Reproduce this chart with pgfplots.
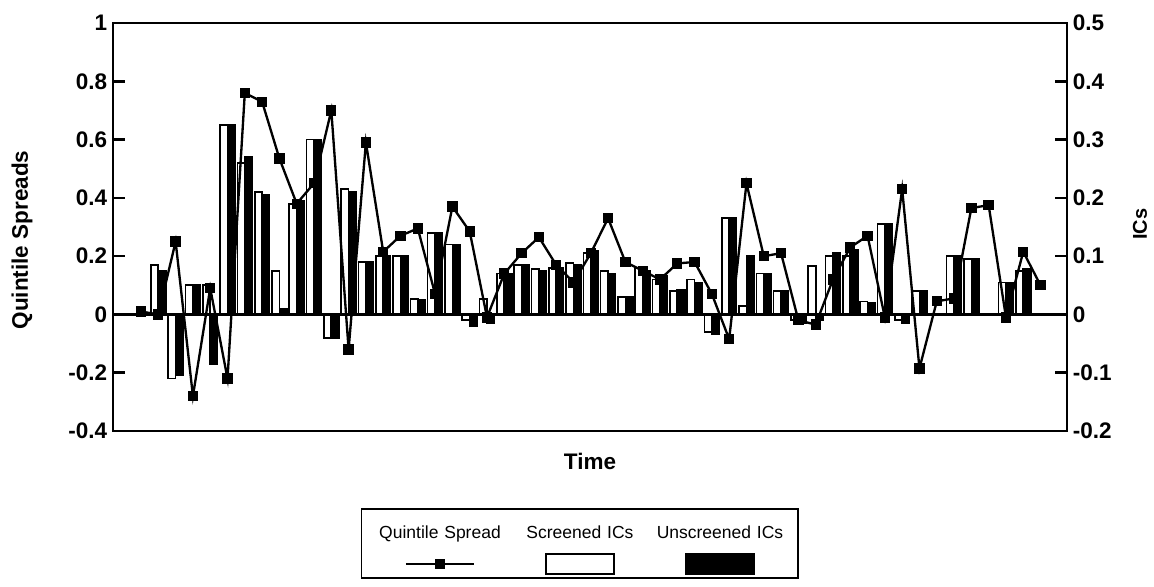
\documentclass[border=0pt]{standalone}
\usepackage{pgfplots}
\pgfplotsset{compat=1.18}
\usepackage{pgfplotstable}
\usepackage{fontspec}
\setmainfont{Liberation Sans}

\pgfplotstableread{
k qs s u
0 0.01 0 0
1 0.00 0.085 0.075
2 0.25 -0.11 -0.105
3 -0.28 0.05 0.05
4 0.09 0.05 -0.085
5 -0.22 0.325 0.325
6 0.76 0.26 0.27
7 0.73 0.21 0.205
8 0.535 0.075 0.01
9 0.38 0.19 0.195
10 0.45 0.30 0.30
11 0.70 -0.04 -0.04
12 -0.12 0.215 0.21
13 0.59 0.09 0.09
14 0.215 0.10 0.10
15 0.27 0.10 0.10
16 0.295 0.027 0.025
17 0.07 0.14 0.14
18 0.37 0.12 0.12
19 0.285 -0.01 -0.02
20 -0.01 0.027 -0.015
21 0.14 0.07 0.07
22 0.21 0.085 0.085
23 0.265 0.078 0.075
24 0.17 0.08 0.08
25 0.11 0.088 0.085
26 0.21 0.105 0.109
27 0.33 0.074 0.07
28 0.18 0.03 0.03
29 0.15 0.08 0.075
30 0.12 0.06 0.066
31 0.175 0.04 0.043
32 0.18 0.06 0.055
33 0.07 -0.03 -0.033
34 -0.085 0.166 0.166
35 0.45 0.015 0.10
36 0.20 0.07 0.07
37 0.21 0.04 0.04
38 -0.02 -0.01 -0.015
39 -0.035 0.083 -0.01
40 0.12 0.10 0.105
41 0.23 0.10 0.11
42 0.27 0.022 0.02
43 -0.01 0.155 0.155
44 0.43 -0.01 -0.015
45 -0.185 0.04 0.04
46 0.045 0 0
47 0.055 0.10 0.10
48 0.365 0.095 0.095
49 0.375 0 0
50 -0.01 0.055 0.055
51 0.215 0.075 0.078
52 0.10 0 0
}\datatable

\pgfplotsset{
  common/.style={
    scale only axis, width=572.4pt, height=244.8pt,
    xmin=-1.62, xmax=53.53, xtick=\empty,
    enlargelimits=false,
    axis line style={line width=1.5pt},
    tick style={line width=1.5pt, black},
    major tick length=7pt,
    tick align=inside,
    /pgf/number format/assume math mode=true,
    tick label style={font=\fontsize{13.5}{16}\selectfont\bfseries},
  },
  qsleg/.style={legend image code/.code={\draw[overlay,mark repeat=2,mark phase=2,##1] plot coordinates {(21.5pt,-12.3pt) (42pt,-12.3pt) (62.5pt,-12.3pt)};}},
  barleg/.style={legend image code/.code={\draw[overlay,##1] (21.5pt,-18.3pt) rectangle (62.5pt,-6.3pt);}},
}

\begin{document}
\begin{tikzpicture}
\path[use as bounding box] (-67.8pt,-93pt) rectangle (624.6pt,258.6pt);
\begin{axis}[common,
  ymin=-0.2, ymax=0.5,
  axis y line*=right, axis x line=none,
  tick align=inside,
  ytick={-0.2,-0.1,0,0.1,0.2,0.3,0.4,0.5},
  ylabel={ICs},
  ylabel style={at={(axis description cs:1.0765,0.507)}, anchor=center, font=\fontsize{12}{14}\selectfont\bfseries},
]
\addplot[ybar, bar width=0.43, bar shift=-0.215, fill=white, draw=black, line width=1pt] table[x=k,y=s]{\datatable};
\addplot[ybar, bar width=0.43, bar shift=0.215, fill=black, draw=black, line width=1pt] table[x=k,y=u]{\datatable};
\end{axis}
\begin{axis}[common,
  ymin=-0.4, ymax=1,
  ytick={-0.4,-0.2,0,0.2,0.4,0.6,0.8,1},
  ytick pos=left,
  ylabel={Quintile Spreads},
  ylabel style={at={(axis description cs:-0.0954,0.468)}, anchor=center, font=\fontsize{13.5}{16}\selectfont\bfseries},
  xlabel={Time},
  xlabel style={at={(axis description cs:0.5,0)}, anchor=north, yshift=-10pt, font=\fontsize{13.5}{16}\selectfont\bfseries},
  legend columns=3,
  legend cell align=center,
  legend style={at={(axis description cs:0.4895,-0.189)}, anchor=north, draw=black, line width=1pt,
    inner xsep=5pt, inner ysep=8.3pt, font=\fontsize{10.5}{12}\selectfont,
    /tikz/column sep=0pt,
    /tikz/every odd column/.style={column sep=0pt},
    /tikz/every even column/.style={column sep=0pt},
    cells={anchor=center},
    nodes={inner xsep=0pt, inner ysep=2pt, text width=84pt, align=center, text height=7.7pt, text depth=13.1pt}},
]
\addplot[black, line width=1.5pt, forget plot] coordinates {(-1.62,0) (53.53,0)};
\addplot[black, line width=1.4pt, mark=square*, mark size=2.4pt, mark options={solid, fill=black}, qsleg]
  table[x=k,y=qs]{\datatable};
\addlegendentry{Quintile Spread}
\addlegendimage{fill=white, draw=black, line width=1pt, barleg}
\addlegendentry{Screened ICs}
\addlegendimage{fill=black, draw=black, line width=1pt, barleg}
\addlegendentry{Unscreened ICs}
\end{axis}
\end{tikzpicture}
\end{document}
